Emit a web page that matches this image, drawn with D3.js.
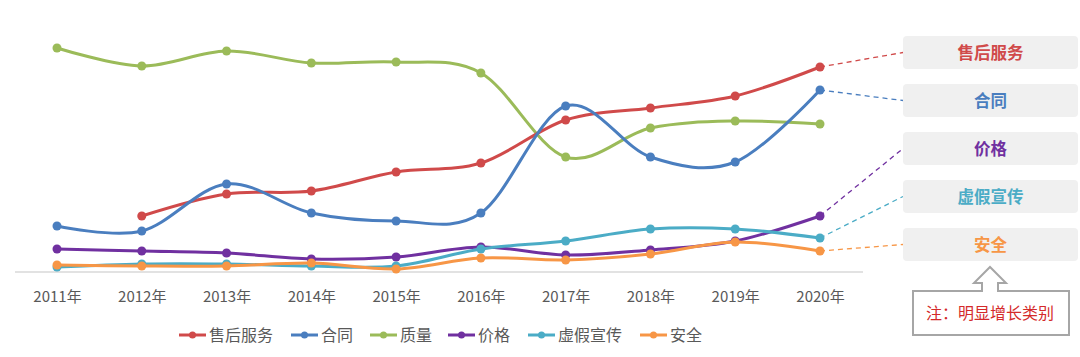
<!DOCTYPE html>
<html><head><meta charset="utf-8">
<script src="https://cdn.jsdelivr.net/npm/d3@7"></script>
<style>
html,body{margin:0;padding:0;background:#fff;}
svg{display:block;font-family:"Noto Sans CJK SC","Noto Sans",sans-serif;}
</style></head>
<body><svg id="c" width="1080" height="357"></svg>
<script>
const years = ["2011年","2012年","2013年","2014年","2015年","2016年","2017年","2018年","2019年","2020年"];
const seriesNames = ["售后服务","合同","质量","价格","虚假宣传","安全"];
const seriesColors = ["#d04a4a","#4a7ebf","#9bbb59","#7030a0","#4bacc6","#f79646"];
const afterSales = [null,56,78,81,100,109,152,164,176,205];
const contract = [46,41,88,59,51,59,166,115,110,182];
const quality = [224,206,221,209,210,199,115,144,151,148];
const price = [23,21,19,13,15,25,17,22,31,56];
const falseAd = [5,8,8,6,6,23,31,43,43,34];
const safety = [7,6,6,9,3,14,12,18,30,21];
const highlightNote = "注：明显增长类别";
const seriesValues = [afterSales, contract, quality, price, falseAd, safety];

const svg = d3.select("#c");
const x = d3.scalePoint().domain(years).range([57, 820]);
const y = d3.scaleLinear().domain([0, 250]).range([272, 22]);

// axis
const xAxis = d3.axisBottom(x).tickSize(0).tickPadding(19);
const gx = svg.append("g").attr("transform", "translate(0,272)").call(xAxis);
gx.select(".domain").remove();
gx.selectAll("text").attr("fill", "#595959").style("font-size", "15px")
  .style("font-family", "'Noto Sans CJK SC',sans-serif");
svg.append("line").attr("x1", 15).attr("x2", 863).attr("y1", 272).attr("y2", 272)
  .attr("stroke", "#d9d9d9").attr("stroke-width", 1.3);

const line = d3.line()
  .defined(d => d.v != null)
  .x(d => x(d.year)).y(d => y(d.v))
  .curve(d3.curveCardinal.tension(0));

// draw order: green first, then others
const order = [2, 0, 1, 3, 4, 5];
order.forEach(i => {
  const data = years.map((yr, k) => ({year: yr, v: seriesValues[i][k]}));
  const g = svg.append("g");
  g.append("path").datum(data).attr("d", line).attr("fill", "none")
    .attr("stroke", seriesColors[i]).attr("stroke-width", 3).attr("stroke-linecap", "round");
  g.selectAll("circle").data(data.filter(d => d.v != null)).join("circle")
    .attr("cx", d => x(d.year)).attr("cy", d => y(d.v)).attr("r", 4.5)
    .attr("fill", seriesColors[i]);
});

// right labels
const boxX = 903, boxW = 175, boxH = 33, boxTop0 = 36, boxGap = 48;
const labelOrder = [0, 1, 3, 4, 5];
labelOrder.forEach((i, j) => {
  const by = boxTop0 + j * boxGap;
  const last = seriesValues[i][years.length - 1];
  svg.append("line")
    .attr("x1", x(years[years.length - 1])).attr("y1", y(last))
    .attr("x2", boxX).attr("y2", by + boxH / 2)
    .attr("stroke", seriesColors[i]).attr("stroke-width", 1.3)
    .attr("stroke-dasharray", "5,4");
  svg.append("rect").attr("x", boxX).attr("y", by).attr("width", boxW).attr("height", boxH)
    .attr("rx", 4).attr("fill", "#f0f0f0");
  svg.append("text").attr("x", boxX + boxW / 2).attr("y", by + boxH / 2 + 6)
    .attr("text-anchor", "middle").attr("fill", seriesColors[i])
    .style("font-size", "16.5px").style("font-weight", "bold").text(seriesNames[i]);
});

// note with arrow
const nx0 = 913, nx1 = 1069, ny0 = 291, ny1 = 335, ax = 990;
const notePath = [
  [nx0, ny0], [ax - 8, ny0], [ax - 8, ny0 - 8], [ax - 16, ny0 - 8], [ax, ny0 - 24],
  [ax + 16, ny0 - 8], [ax + 8, ny0 - 8], [ax + 8, ny0], [nx1, ny0], [nx1, ny1], [nx0, ny1]
];
svg.append("path").attr("d", "M" + notePath.map(p => p.join(",")).join("L") + "Z")
  .attr("fill", "#fff").attr("stroke", "#a6a6a6").attr("stroke-width", 2);
svg.append("text").attr("x", ax).attr("y", 319).attr("text-anchor", "middle")
  .attr("fill", "#d42a2a").style("font-size", "16px").text(highlightNote);

// legend
const legendX = [179, 291, 370, 448, 528, 640];
const legend = svg.append("g");
seriesNames.forEach((n, i) => {
  const g = legend.append("g").attr("transform", `translate(${legendX[i]},335)`);
  g.append("line").attr("x1", 0).attr("x2", 27).attr("y1", 0).attr("y2", 0)
    .attr("stroke", seriesColors[i]).attr("stroke-width", 3);
  g.append("circle").attr("cx", 13.5).attr("cy", 0).attr("r", 3.5).attr("fill", seriesColors[i]);
  g.append("text").attr("x", 30).attr("y", 6).attr("fill", "#595959")
    .style("font-size", "16px").text(n);
});
</script></body></html>
